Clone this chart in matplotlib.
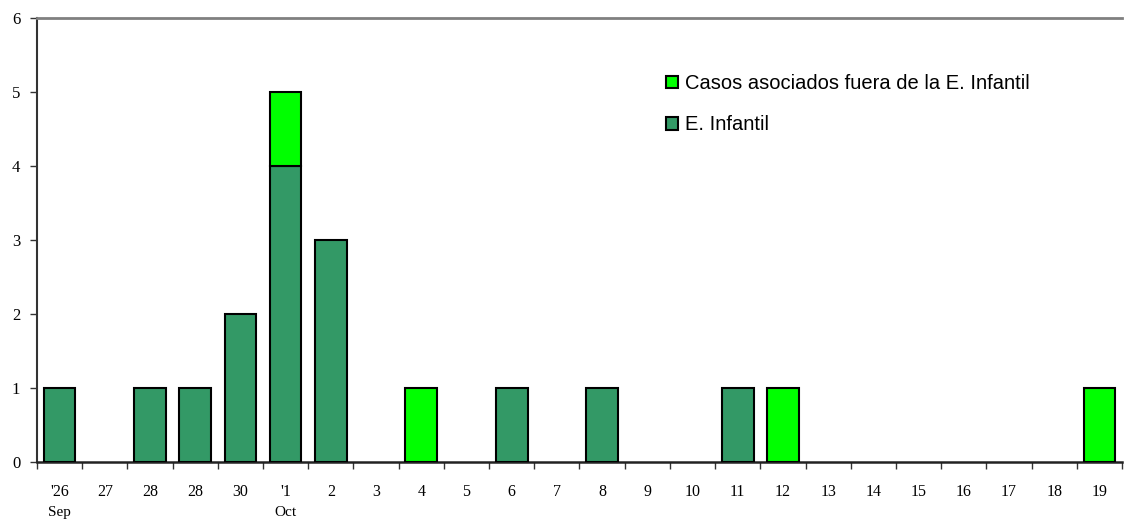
import matplotlib
matplotlib.use("Agg")
import matplotlib.pyplot as plt
from matplotlib.patches import Patch
import numpy as np

days = ["'26", "27", "28", "28", "30", "'1", "2", "3", "4", "5", "6", "7",
        "8", "9", "10", "11", "12", "13", "14", "15", "16", "17", "18", "19"]
e_infantil = [1, 0, 1, 1, 2, 4, 3, 0, 0, 0, 1, 0, 1, 0, 0, 1, 0, 0, 0, 0, 0, 0, 0, 0]
asociados = [0, 0, 0, 0, 0, 1, 0, 0, 1, 0, 0, 0, 0, 0, 0, 0, 1, 0, 0, 0, 0, 0, 0, 1]
month_labels = [("Sep", 0), ("Oct", 5)]

dark_green = "#339966"
bright_green = "#00ff00"
label_inf = "E. Infantil"
label_aso = "Casos asociados fuera de la E. Infantil"

fig = plt.figure(figsize=(11.24, 5.23), dpi=100)
ax = fig.add_axes([37 / 1124, 1 - 462 / 523, 1085 / 1124, 444 / 523])

x = np.arange(len(days))
w = 0.7
inf = np.array(e_infantil, dtype=float)
aso = np.array(asociados, dtype=float)
# empty days get no bar outline
inf_lw = [1.5 if v > 0 else 0 for v in inf]
aso_lw = [1.5 if v > 0 else 0 for v in aso]
ax.bar(x, inf, width=w, color=dark_green, edgecolor="black",
       linewidth=inf_lw, zorder=3)
ax.bar(x, aso, width=w, bottom=inf, color=bright_green,
       edgecolor="black", linewidth=aso_lw, zorder=3)

ax.set_xlim(-0.5, len(days) - 0.5)
ax.set_ylim(0, 6)

serif = "Liberation Serif"
ax.set_yticks(range(7))
ax.set_yticklabels([str(v) for v in range(7)], fontfamily=serif, fontsize=12)
ax.set_xticks(np.arange(len(days) + 1) - 0.5)
ax.set_xticklabels([])
ax.set_xticks(x, minor=True)
ax.set_xticklabels(days, minor=True, fontfamily=serif, fontsize=11.5)
ax.tick_params(axis="x", which="major", direction="out", length=5,
               width=1, color="#333333")
ax.tick_params(axis="x", which="minor", length=0, pad=16)
ax.tick_params(axis="y", direction="out", length=5, width=1,
               color="#333333", pad=7)

for name, idx in month_labels:
    ax.text(idx, -0.68, name, ha="center", va="center", fontfamily=serif,
            fontsize=11, transform=ax.transData)

ax.spines["right"].set_visible(False)
ax.spines["top"].set_color("#808080")
ax.spines["top"].set_linewidth(2)
ax.spines["left"].set_color("#333333")
ax.spines["left"].set_linewidth(1.5)
ax.spines["bottom"].set_color("#222222")
ax.spines["bottom"].set_linewidth(1.8)

handles = [Patch(facecolor=bright_green, edgecolor="black", linewidth=1.5),
           Patch(facecolor=dark_green, edgecolor="black", linewidth=1.5)]
leg = ax.legend(handles, [label_aso, label_inf], loc="upper left",
                bbox_to_anchor=(621 / 1085, (462 - 66) / 444), frameon=False,
                prop={"family": "Liberation Sans", "size": 14.5},
                handlelength=0.6, handleheight=0.6, handletextpad=0.35,
                labelspacing=1.1, borderaxespad=0)

fig.savefig("out.png", dpi=100)
